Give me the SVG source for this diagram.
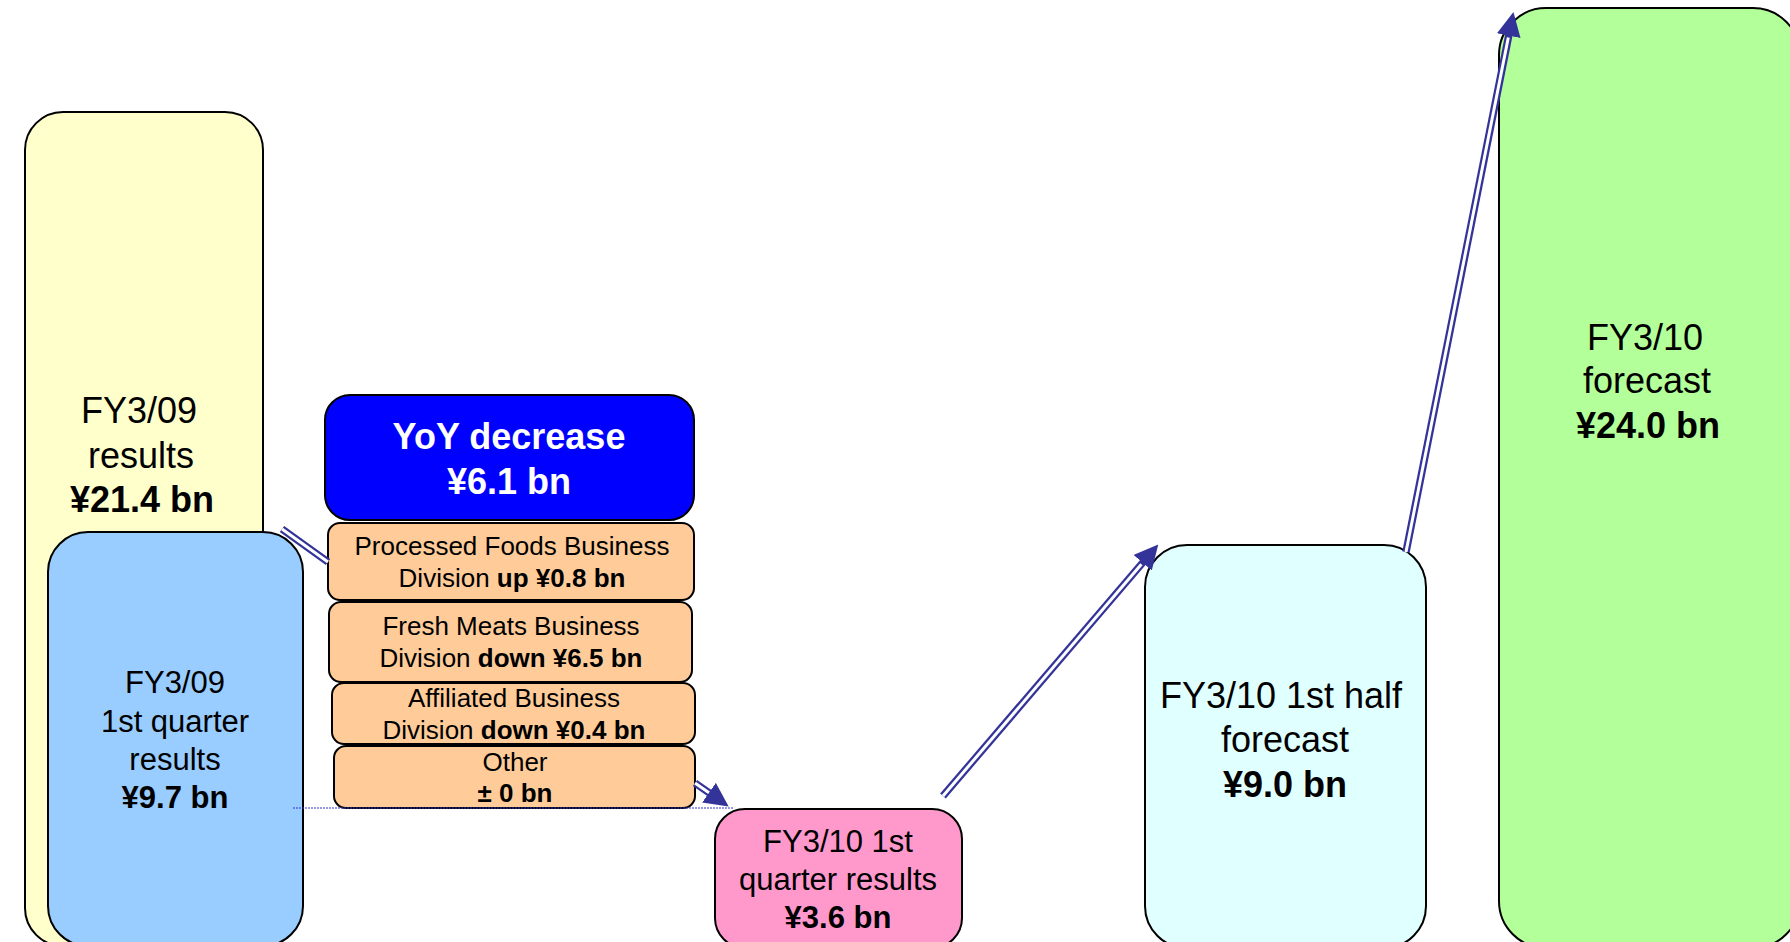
<svg xmlns="http://www.w3.org/2000/svg" width="1790" height="942" viewBox="0 0 1790 942">
<style>
  .box { stroke: #000000; stroke-width: 2; }
  .t { font-family: "Liberation Sans", Arial, sans-serif; fill: #000000; text-anchor: middle; }
  .big { font-size: 36px; }
  .mid { font-size: 31px; }
  .sm { font-size: 26px; }
  .b { font-weight: bold; }
  .w { fill: #FFFFFF; }
  .outer { fill: none; stroke: #333399; stroke-width: 7.5; }
  .inner { fill: none; stroke: #FFFFFF; stroke-width: 3; }
  .dot { fill: none; stroke: #3333CC; stroke-width: 1; stroke-dasharray: 2 1; }
</style>
<defs>
  <marker id="ah" markerUnits="userSpaceOnUse" markerWidth="24" markerHeight="24" refX="11" refY="12" orient="auto" viewBox="0 0 24 24">
    <path d="M0,0 L24,12 L0,24 Z" fill="#333399"/>
  </marker>
</defs>
<rect width="1790" height="942" fill="#FFFFFF"/>

<g id="fy09-results">
  <rect class="box" x="25" y="112" width="238" height="834" rx="38" fill="#FFFFCC"/>
  <text class="t big" x="139" y="423">FY3/09</text>
  <text class="t big" x="141" y="468">results</text>
  <text class="t big b" x="142" y="512">¥21.4 bn</text>
</g>

<g id="fy09-q1">
  <rect class="box" x="48" y="532" width="255" height="414" rx="40" fill="#99CCFF"/>
  <text class="t mid" x="175" y="693">FY3/09</text>
  <text class="t mid" x="175" y="732">1st quarter</text>
  <text class="t mid" x="175" y="770">results</text>
  <text class="t mid b" x="175" y="808">¥9.7 bn</text>
</g>

<g id="yoy">
  <rect class="box" x="325" y="395" width="369" height="125" rx="25" fill="#0000FF"/>
  <text class="t big b w" x="509" y="449">YoY decrease</text>
  <text class="t big b w" x="509" y="494">¥6.1 bn</text>
</g>

<g id="processed">
  <rect class="box" x="328" y="523" width="366" height="77" rx="12" fill="#FFCC99"/>
  <text class="t sm" x="512" y="555">Processed Foods Business</text>
  <text class="t sm" x="512" y="587">Division <tspan class="b">up ¥0.8 bn</tspan></text>
</g>

<g id="fresh">
  <rect class="box" x="329" y="602" width="363" height="80" rx="12" fill="#FFCC99"/>
  <text class="t sm" x="511" y="635">Fresh Meats Business</text>
  <text class="t sm" x="511" y="667">Division <tspan class="b">down ¥6.5 bn</tspan></text>
</g>

<g id="affiliated">
  <rect class="box" x="332" y="683" width="363" height="61" rx="12" fill="#FFCC99"/>
  <text class="t sm" x="514" y="707">Affiliated Business</text>
  <text class="t sm" x="514" y="739">Division <tspan class="b">down ¥0.4 bn</tspan></text>
</g>

<g id="other">
  <rect class="box" x="334" y="746" width="361" height="62" rx="12" fill="#FFCC99"/>
  <text class="t sm" x="515" y="771">Other</text>
  <text class="t sm b" x="515" y="802">± 0 bn</text>
</g>

<g id="fy10-q1">
  <rect class="box" x="715" y="809" width="247" height="139" rx="30" fill="#FF99CC"/>
  <text class="t mid" x="838" y="852">FY3/10 1st</text>
  <text class="t mid" x="838" y="890">quarter results</text>
  <text class="t mid b" x="838" y="928">¥3.6 bn</text>
</g>

<g id="fy10-h1">
  <rect class="box" x="1145" y="545" width="281" height="403" rx="42" fill="#E0FFFF"/>
  <text class="t big" x="1281" y="708">FY3/10 1st half</text>
  <text class="t big" x="1285" y="752">forecast</text>
  <text class="t big b" x="1285" y="797">¥9.0 bn</text>
</g>

<g id="fy10-forecast">
  <rect class="box" x="1499" y="8" width="301" height="940" rx="47" fill="#B3FF99"/>
  <text class="t big" x="1645" y="350">FY3/10</text>
  <text class="t big" x="1647" y="393">forecast</text>
  <text class="t big b" x="1648" y="438">¥24.0 bn</text>
</g>

<g id="connectors">
  <line class="dot" x1="293" y1="808" x2="733" y2="808"/>
  <g id="c1">
    <path class="outer" d="M282,529 L328,562"/>
    <path class="inner" d="M282,529 L328,562"/>
  </g>
  <g id="c2">
    <path class="outer" d="M695,783 L718,799" marker-end="url(#ah)"/>
    <path class="inner" d="M695,783 L709,792.8"/>
  </g>
  <g id="c3">
    <path class="outer" d="M943,796 L1149.8,554.4" marker-end="url(#ah)"/>
    <path class="inner" d="M943,796 L1141.4,564.2"/>
  </g>
  <g id="c4">
    <path class="outer" d="M1406,552 L1510.9,24.8" marker-end="url(#ah)"/>
    <path class="inner" d="M1406,552 L1508.3,37.5"/>
  </g>
</g>
</svg>
